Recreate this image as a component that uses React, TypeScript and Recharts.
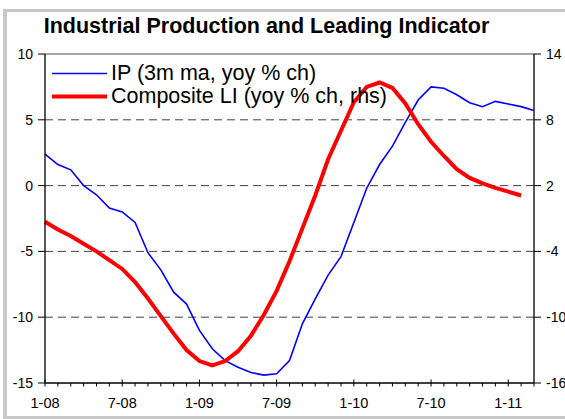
import React from 'react';
import {
    ComposedChart,
    Line,
    XAxis,
    YAxis,
    ReferenceLine,
    Legend,
} from 'recharts';

// monthly, Jan 2008 .. Mar 2011
const months = [
    '1-08', '2-08', '3-08', '4-08', '5-08', '6-08', '7-08', '8-08', '9-08', '10-08', '11-08', '12-08',
    '1-09', '2-09', '3-09', '4-09', '5-09', '6-09', '7-09', '8-09', '9-09', '10-09', '11-09', '12-09',
    '1-10', '2-10', '3-10', '4-10', '5-10', '6-10', '7-10', '8-10', '9-10', '10-10', '11-10', '12-10',
    '1-11', '2-11', '3-11',
];

// IP, 3m ma, yoy % ch (left axis)
const ip = [
    2.4, 1.6, 1.2, 0.0, -0.7, -1.7, -2.0, -2.8, -5.1, -6.4, -8.1, -9.0,
    -11.0, -12.4, -13.3, -13.8, -14.2, -14.4, -14.3, -13.3, -10.5, -8.6, -6.8, -5.4,
    -2.8, -0.2, 1.6, 3.0, 4.8, 6.5, 7.5, 7.4, 6.9, 6.3, 6.0, 6.4,
    6.2, 6.0, 5.7,
];

// Composite LI, yoy % ch (right axis)
const li = [
    -1.3, -2.0, -2.6, -3.3, -4.0, -4.8, -5.6, -6.8, -8.3, -9.9, -11.5, -13.0,
    -14.0, -14.4, -14.0, -13.1, -11.7, -9.8, -7.6, -4.9, -1.9, 1.1, 4.4, 7.0,
    9.6, 11.0, 11.4, 10.9, 9.5, 7.6, 6.0, 4.7, 3.5, 2.7, 2.2, 1.8,
    1.45, 1.1, null,
];

const leftTicks = [-15, -10, -5, 0, 5, 10];
const rightTicks = [-16, -10, -4, 2, 8, 14];
const gridValues = [5, 0, -5, -10];

const data = months.map((label, i) => ({ i, label, ip: ip[i], li: li[i] }));
const monthTicks = months.map((_, i) => i);

const FONT = 'Arial, "Liberation Sans", sans-serif';

const MonthTick = (props: any) => {
    const { x, y, payload } = props;
    const major = payload.value % 6 === 0;
    return (
        <g>
            <line x1={x} x2={x} y1={major ? y - 3.5 : y} y2={y + 3.5} stroke="#000" strokeWidth={1} />
            {major && (
                <text x={x} y={y + 25} textAnchor="middle" fontSize={14.5} fontFamily={FONT} fill="#000">
                    {months[payload.value]}
                </text>
            )}
        </g>
    );
};

const renderLegend = () => (
    <div style={{ fontFamily: FONT, fontSize: 21.5, color: '#000' }}>
        <div style={{ display: 'flex', alignItems: 'center', height: 23 }}>
            <svg width={55} height={23}>
                <line x1={0} x2={55} y1={11.5} y2={11.5} stroke="#0000ff" strokeWidth={1.6} />
            </svg>
            <span style={{ marginLeft: 4, whiteSpace: 'nowrap' }}>IP (3m ma, yoy % ch)</span>
        </div>
        <div style={{ display: 'flex', alignItems: 'center', height: 23 }}>
            <svg width={55} height={23}>
                <line x1={0} x2={55} y1={11.5} y2={11.5} stroke="#ff0000" strokeWidth={4} />
            </svg>
            <span style={{ marginLeft: 4, whiteSpace: 'nowrap' }}>Composite LI (yoy % ch, rhs)</span>
        </div>
    </div>
);

export default function App() {
    return (
        <div style={{ position: 'absolute', left: 0, top: 0, width: 565, height: 419, overflow: 'hidden', background: '#fff' }}>
            <div
                style={{
                    position: 'absolute',
                    left: 3,
                    top: 9,
                    width: 600,
                    height: 404,
                    borderLeft: '4px solid #c8c8c8',
                    borderTop: '3px solid #c8c8c8',
                    borderBottom: '4px solid #c8c8c8',
                }}
            />
            <div
                style={{
                    position: 'absolute',
                    left: 0,
                    top: 16,
                    width: 533,
                    textAlign: 'center',
                    fontFamily: FONT,
                    fontWeight: 'bold',
                    fontSize: 21.5,
                    lineHeight: '21px',
                    color: '#000',
                }}
            >
                Industrial Production and Leading Indicator
            </div>
            <div style={{ position: 'absolute', left: 0, top: 0 }}>
                <ComposedChart
                    width={565}
                    height={419}
                    data={data}
                    margin={{ top: 54, right: 0, bottom: 0, left: 5 }}
                >
                    <XAxis
                        dataKey="i"
                        type="number"
                        domain={[0, 38]}
                        ticks={monthTicks}
                        interval={0}
                        tickSize={0}
                        tickMargin={0}
                        tickLine={false}
                        tick={<MonthTick />}
                        height={36}
                        axisLine={{ stroke: '#000', strokeWidth: 1.3 }}
                    />
                    <YAxis
                        yAxisId="left"
                        domain={[-15, 10]}
                        ticks={leftTicks}
                        interval={0}
                        width={40}
                        tickSize={7}
                        tickMargin={5}
                        tick={{ fontSize: 14, fontFamily: FONT, fill: '#000' }}
                        tickLine={{ stroke: '#000' }}
                        axisLine={{ stroke: '#000', strokeWidth: 1.3 }}
                    />
                    <YAxis
                        yAxisId="right"
                        orientation="right"
                        domain={[-16, 14]}
                        ticks={rightTicks}
                        interval={0}
                        width={31}
                        tickSize={7}
                        tickMargin={5}
                        tick={{ fontSize: 14, fontFamily: FONT, fill: '#000', textAnchor: 'start' }}
                        tickLine={{ stroke: '#000' }}
                        axisLine={{ stroke: '#000', strokeWidth: 1.3 }}
                    />
                    <ReferenceLine yAxisId="left" y={10} stroke="#888" strokeWidth={1.5} />
                    {gridValues.map((v) => (
                        <ReferenceLine key={v} yAxisId="left" y={v} stroke="#404040" strokeWidth={1} strokeDasharray="8 5" />
                    ))}
                    <Legend
                        layout="horizontal"
                        verticalAlign="middle"
                        align="center"
                        wrapperStyle={{ top: 62, left: 52, width: 'auto' }}
                        content={renderLegend}
                    />
                    <Line
                        yAxisId="left"
                        dataKey="ip"
                        type="linear"
                        stroke="#0000ff"
                        strokeWidth={1.6}
                        dot={false}
                        isAnimationActive={false}
                    />
                    <Line
                        yAxisId="right"
                        dataKey="li"
                        type="linear"
                        stroke="#ff0000"
                        strokeWidth={4}
                        dot={false}
                        connectNulls={false}
                        isAnimationActive={false}
                    />
                </ComposedChart>
            </div>
        </div>
    );
}
